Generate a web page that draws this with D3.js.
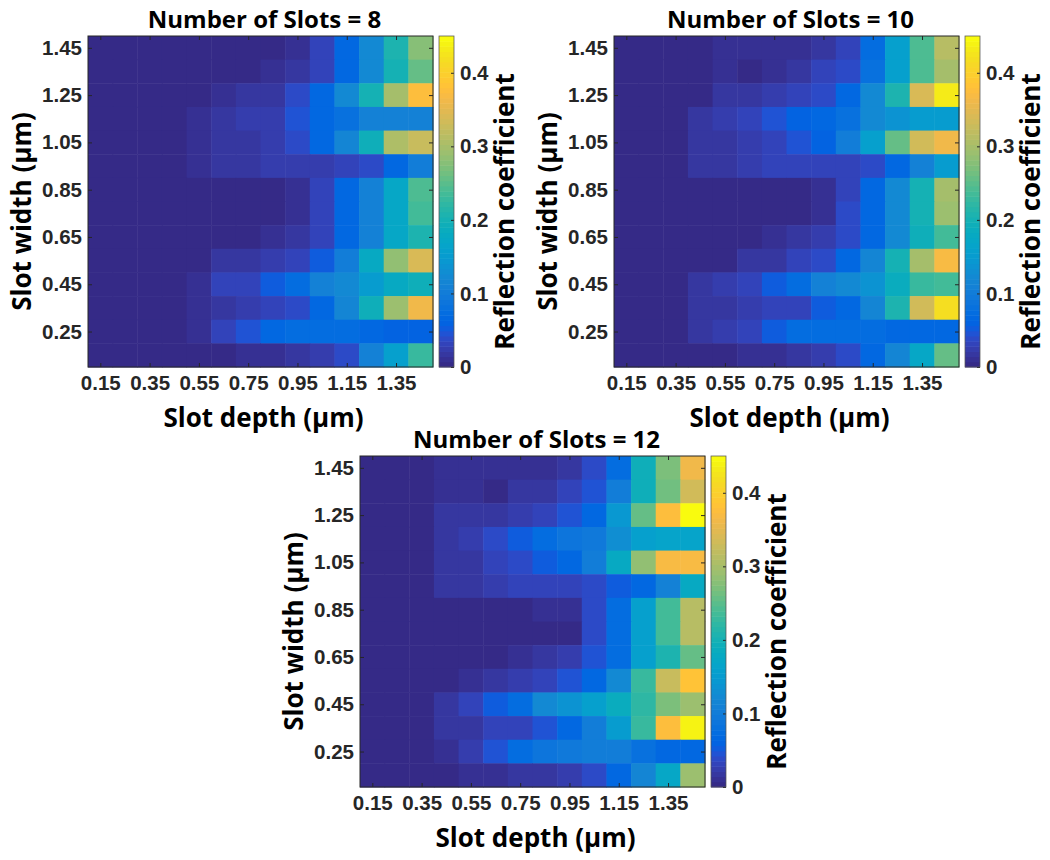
<!DOCTYPE html>
<html>
<head>
<meta charset="utf-8">
<script src="https://cdn.jsdelivr.net/npm/d3@7"></script>
<style>
  html, body { margin: 0; padding: 0; background: #ffffff; }
  svg { display: block; }
  .tick-label { font-family: "Liberation Sans", Arial, sans-serif; font-weight: 700; font-size: 20.5px; fill: #262626; }
  .big-label { font-family: "Open Sans", "Liberation Sans", sans-serif; font-weight: 700; font-size: 26px; fill: #000000; }
  .title-label { font-family: "Open Sans", "Liberation Sans", sans-serif; font-weight: 700; font-size: 24px; fill: #000000; }
</style>
</head>
<body>
<svg id="fig" width="1050" height="860"></svg>
<script>
// Slot depth (columns, µm) and slot width (rows, µm, listed top row first)
const depths = [0.15, 0.25, 0.35, 0.45, 0.55, 0.65, 0.75, 0.85, 0.95, 1.05, 1.15, 1.25, 1.35, 1.45];
const widths = [1.45, 1.35, 1.25, 1.15, 1.05, 0.95, 0.85, 0.75, 0.65, 0.55, 0.45, 0.35, 0.25, 0.15];

const xTickValues = [0.15, 0.35, 0.55, 0.75, 0.95, 1.15, 1.35];
const yTickValues = [0.25, 0.45, 0.65, 0.85, 1.05, 1.25, 1.45];
const colorTickValues = [0, 0.1, 0.2, 0.3, 0.4];
const colorMax = 0.45;

// Reflection coefficient, 8 slots (one row per slot width, top row = 1.45 µm)
const reflection8 = [
  [0.003, 0.003, 0.003, 0.003, 0.004, 0.004, 0.005, 0.006, 0.010, 0.030, 0.068, 0.125, 0.205, 0.280],
  [0.003, 0.003, 0.003, 0.003, 0.004, 0.005, 0.006, 0.010, 0.018, 0.035, 0.065, 0.120, 0.200, 0.260],
  [0.003, 0.003, 0.003, 0.003, 0.006, 0.012, 0.015, 0.020, 0.040, 0.065, 0.120, 0.200, 0.300, 0.375],
  [0.003, 0.003, 0.003, 0.003, 0.010, 0.018, 0.022, 0.028, 0.045, 0.065, 0.080, 0.110, 0.110, 0.110],
  [0.003, 0.003, 0.003, 0.003, 0.010, 0.015, 0.020, 0.025, 0.040, 0.065, 0.115, 0.190, 0.305, 0.330],
  [0.003, 0.003, 0.003, 0.003, 0.010, 0.015, 0.020, 0.022, 0.025, 0.025, 0.030, 0.040, 0.065, 0.100],
  [0.003, 0.003, 0.003, 0.003, 0.003, 0.003, 0.003, 0.004, 0.008, 0.030, 0.065, 0.110, 0.170, 0.240],
  [0.003, 0.003, 0.003, 0.003, 0.003, 0.003, 0.003, 0.004, 0.010, 0.035, 0.065, 0.110, 0.170, 0.235],
  [0.003, 0.003, 0.003, 0.003, 0.003, 0.004, 0.006, 0.012, 0.020, 0.035, 0.065, 0.110, 0.170, 0.210],
  [0.003, 0.003, 0.003, 0.003, 0.006, 0.015, 0.020, 0.025, 0.035, 0.055, 0.100, 0.180, 0.285, 0.340],
  [0.003, 0.003, 0.003, 0.003, 0.012, 0.030, 0.035, 0.055, 0.075, 0.110, 0.120, 0.150, 0.180, 0.190],
  [0.003, 0.003, 0.003, 0.003, 0.012, 0.020, 0.025, 0.030, 0.040, 0.070, 0.115, 0.190, 0.290, 0.365],
  [0.003, 0.003, 0.003, 0.003, 0.012, 0.030, 0.045, 0.065, 0.075, 0.075, 0.075, 0.070, 0.060, 0.060],
  [0.003, 0.003, 0.003, 0.003, 0.004, 0.005, 0.010, 0.012, 0.015, 0.025, 0.040, 0.110, 0.160, 0.230]
];

// Reflection coefficient, 10 slots
const reflection10 = [
  [0.003, 0.003, 0.003, 0.003, 0.012, 0.012, 0.012, 0.012, 0.015, 0.030, 0.075, 0.160, 0.245, 0.310],
  [0.003, 0.003, 0.003, 0.003, 0.010, 0.007, 0.012, 0.015, 0.035, 0.040, 0.080, 0.155, 0.240, 0.300],
  [0.003, 0.003, 0.003, 0.003, 0.015, 0.020, 0.025, 0.035, 0.040, 0.070, 0.125, 0.210, 0.340, 0.430],
  [0.003, 0.003, 0.003, 0.015, 0.025, 0.035, 0.045, 0.060, 0.070, 0.080, 0.120, 0.140, 0.150, 0.150],
  [0.003, 0.003, 0.003, 0.015, 0.020, 0.025, 0.035, 0.045, 0.060, 0.100, 0.160, 0.255, 0.335, 0.360],
  [0.003, 0.003, 0.003, 0.015, 0.020, 0.025, 0.030, 0.030, 0.030, 0.035, 0.040, 0.070, 0.110, 0.150],
  [0.003, 0.003, 0.003, 0.003, 0.003, 0.003, 0.003, 0.004, 0.008, 0.035, 0.070, 0.125, 0.200, 0.300],
  [0.003, 0.003, 0.003, 0.003, 0.003, 0.003, 0.003, 0.004, 0.010, 0.040, 0.070, 0.125, 0.200, 0.290],
  [0.003, 0.003, 0.003, 0.003, 0.003, 0.004, 0.012, 0.020, 0.025, 0.040, 0.070, 0.120, 0.190, 0.235],
  [0.003, 0.003, 0.003, 0.003, 0.006, 0.015, 0.020, 0.030, 0.040, 0.070, 0.115, 0.200, 0.300, 0.370],
  [0.003, 0.003, 0.003, 0.015, 0.025, 0.035, 0.050, 0.075, 0.110, 0.120, 0.140, 0.185, 0.230, 0.235],
  [0.003, 0.003, 0.003, 0.015, 0.020, 0.025, 0.030, 0.035, 0.050, 0.070, 0.115, 0.210, 0.335, 0.420],
  [0.003, 0.003, 0.003, 0.015, 0.025, 0.035, 0.050, 0.075, 0.075, 0.075, 0.075, 0.070, 0.065, 0.065],
  [0.003, 0.003, 0.003, 0.003, 0.004, 0.010, 0.012, 0.020, 0.025, 0.040, 0.065, 0.115, 0.170, 0.255]
];

// Reflection coefficient, 12 slots
const reflection12 = [
  [0.003, 0.003, 0.003, 0.012, 0.012, 0.012, 0.012, 0.014, 0.018, 0.040, 0.075, 0.190, 0.270, 0.360],
  [0.003, 0.003, 0.003, 0.012, 0.008, 0.007, 0.015, 0.020, 0.030, 0.045, 0.100, 0.190, 0.265, 0.335],
  [0.003, 0.003, 0.003, 0.015, 0.015, 0.020, 0.025, 0.035, 0.045, 0.070, 0.145, 0.255, 0.375, 0.445],
  [0.003, 0.003, 0.003, 0.015, 0.025, 0.040, 0.055, 0.075, 0.085, 0.095, 0.130, 0.160, 0.165, 0.165],
  [0.003, 0.003, 0.003, 0.015, 0.020, 0.030, 0.040, 0.050, 0.070, 0.100, 0.180, 0.285, 0.370, 0.370],
  [0.003, 0.003, 0.003, 0.015, 0.020, 0.025, 0.030, 0.035, 0.035, 0.040, 0.055, 0.070, 0.110, 0.180],
  [0.003, 0.003, 0.003, 0.003, 0.003, 0.003, 0.005, 0.008, 0.010, 0.040, 0.075, 0.160, 0.235, 0.310],
  [0.003, 0.003, 0.003, 0.003, 0.003, 0.003, 0.003, 0.006, 0.006, 0.040, 0.075, 0.160, 0.235, 0.310],
  [0.003, 0.003, 0.003, 0.003, 0.003, 0.004, 0.012, 0.015, 0.025, 0.045, 0.075, 0.155, 0.205, 0.255],
  [0.003, 0.003, 0.003, 0.003, 0.012, 0.020, 0.025, 0.030, 0.045, 0.070, 0.120, 0.225, 0.330, 0.385],
  [0.003, 0.003, 0.003, 0.015, 0.030, 0.050, 0.075, 0.120, 0.140, 0.160, 0.185, 0.220, 0.270, 0.290],
  [0.003, 0.003, 0.003, 0.015, 0.020, 0.030, 0.035, 0.045, 0.070, 0.100, 0.150, 0.225, 0.375, 0.440],
  [0.003, 0.003, 0.003, 0.012, 0.025, 0.045, 0.075, 0.090, 0.095, 0.100, 0.100, 0.080, 0.065, 0.065],
  [0.003, 0.003, 0.003, 0.005, 0.010, 0.012, 0.015, 0.020, 0.025, 0.040, 0.065, 0.115, 0.170, 0.290]
];

const panelTitles = ["Number of Slots = 8", "Number of Slots = 10", "Number of Slots = 12"];

// Parula colormap, 64 entries
const parula = [
  "#352a87","#363093","#3637a0","#353dad","#3243ba","#2c4ac7","#2053d4","#0f5cdd",
  "#0363e1","#0268e1","#046de0","#0871de","#0d75dc","#1079da","#127dd8","#1481d6",
  "#1485d4","#1389d3","#108ed2","#0c93d2","#0998d1","#079ccf","#06a0cd","#06a4ca",
  "#06a7c6","#07a9c2","#0aacbe","#0faeb9","#15b1b4","#1db3af","#25b5a9","#2eb7a4",
  "#38b99e","#42bb98","#4dbc92","#59bd8c","#65be86","#71bf80","#7cbf7b","#87bf77",
  "#92bf73","#9cbf6f","#a5be6b","#aebe67","#b7bd64","#c0bc60","#c8bc5d","#d1bb59",
  "#d9ba56","#e1b952","#e9b94e","#f1b94a","#f8bb44","#fdbe3d","#ffc337","#fec832",
  "#fcce2e","#fad32a","#f7d826","#f5de21","#f5e41d","#f5eb18","#f6f313","#f9fb0e"
];

const W = 345, H = 331;
const panels = [
  { data: reflection8,  left: 88,  top: 36,  title: panelTitles[0] },
  { data: reflection10, left: 614, top: 36,  title: panelTitles[1] },
  { data: reflection12, left: 360, top: 456, title: panelTitles[2] }
];

const color = d3.scaleQuantize().domain([0, colorMax]).range(parula);
const fmt2 = d3.format(".2f");
const svg = d3.select("#fig");
svg.append("rect").attr("width", 1050).attr("height", 860).attr("fill", "#ffffff");

const x = d3.scaleLinear().domain([0.1, 1.5]).range([0, W]);
const y = d3.scaleLinear().domain([0.1, 1.5]).range([H, 0]);
const half = (depths[1] - depths[0]) / 2;

panels.forEach(p => {
  const g = svg.append("g").attr("transform", `translate(${p.left},${p.top})`);

  // heatmap cells
  const cells = [];
  p.data.forEach((row, i) => row.forEach((v, j) => cells.push({ w: widths[i], d: depths[j], v })));
  g.append("g").selectAll("rect").data(cells).join("rect")
    .attr("x", c => x(c.d - half))
    .attr("y", c => y(c.w + half))
    .attr("width", c => x(c.d + half) - x(c.d - half) + 0.5)
    .attr("height", c => y(c.w - half) - y(c.w + half) + 0.5)
    .attr("fill", c => color(c.v));

  // axes with inward ticks on all four sides
  const tickLen = 4;
  const ax = g.append("g").attr("transform", `translate(0,${H})`)
    .call(d3.axisBottom(x).tickValues(xTickValues).tickFormat(fmt2).tickSize(-tickLen).tickPadding(8));
  const ay = g.append("g")
    .call(d3.axisLeft(y).tickValues(yTickValues).tickFormat(fmt2).tickSize(-tickLen).tickPadding(6));
  const axTop = g.append("g")
    .call(d3.axisTop(x).tickValues(xTickValues).tickFormat("").tickSize(-tickLen));
  const ayRight = g.append("g").attr("transform", `translate(${W},0)`)
    .call(d3.axisRight(y).tickValues(yTickValues).tickFormat("").tickSize(-tickLen));
  [ax, ay, axTop, ayRight].forEach(a => {
    a.select(".domain").remove();
    a.selectAll(".tick line").attr("stroke", "#262626").attr("stroke-width", 1);
    a.selectAll(".tick text").attr("class", "tick-label").attr("fill", null);
  });
  ax.selectAll(".tick text").attr("dy", "0.71em");

  // plot frame
  g.append("rect").attr("width", W).attr("height", H)
    .attr("fill", "none").attr("stroke", "#262626").attr("stroke-width", 1);

  // title and axis labels
  g.append("text").attr("class", "title-label")
    .attr("x", W / 2 + 4).attr("y", -8)
    .attr("text-anchor", "middle").text(p.title);
  g.append("text").attr("class", "big-label")
    .attr("x", W / 2 + 3).attr("y", H + 60)
    .attr("text-anchor", "middle").text("Slot depth (µm)");
  g.append("text").attr("class", "big-label")
    .attr("transform", `translate(-57,${H / 2 + 10}) rotate(-90)`)
    .attr("text-anchor", "middle").text("Slot width (µm)");

  // colorbar
  const cbW = 15, cbX = W + 6;
  const cy = d3.scaleLinear().domain([0, colorMax]).range([H, 0]);
  const cb = g.append("g").attr("transform", `translate(${cbX},0)`);
  const bands = parula.map((c, i) => ({ c, lo: colorMax * i / parula.length, hi: colorMax * (i + 1) / parula.length }));
  cb.selectAll("rect.band").data(bands).join("rect").attr("class", "band")
    .attr("x", 0).attr("width", cbW)
    .attr("y", b => cy(b.hi)).attr("height", b => cy(b.lo) - cy(b.hi) + 0.5)
    .attr("fill", b => b.c);
  const cax = cb.append("g").attr("transform", `translate(${cbW},0)`)
    .call(d3.axisRight(cy).tickValues(colorTickValues).tickFormat(d3.format("")).tickSize(-3).tickPadding(6));
  cax.select(".domain").remove();
  cax.selectAll(".tick line").attr("stroke", "#262626").attr("stroke-width", 1);
  cax.selectAll(".tick text").attr("class", "tick-label").attr("fill", null);
  cb.append("rect").attr("width", cbW).attr("height", H)
    .attr("fill", "none").attr("stroke", "#555555").attr("stroke-width", 0.75);
  g.append("text").attr("class", "big-label")
    .attr("transform", `translate(${cbX + cbW + 60},${H / 2 + 10}) rotate(-90)`)
    .attr("text-anchor", "middle").text("Reflection coefficient");
});
</script>
</body>
</html>
